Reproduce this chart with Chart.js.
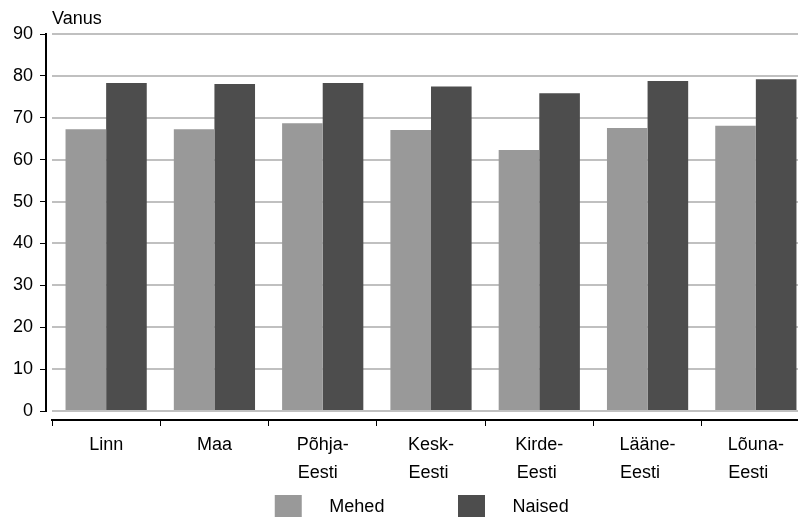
<!DOCTYPE html>
<html>
<head>
<meta charset="utf-8">
<script src="https://cdn.jsdelivr.net/npm/chart.js@4/dist/chart.umd.min.js"></script>
<style>
  html, body { margin: 0; padding: 0; background: #fff; overflow: hidden; width: 798px; height: 517px; }
  canvas { display: block; }
</style>
</head>
<body>
<canvas id="chart" width="812" height="529"></canvas>
<script>
const categories = ['Linn', 'Maa', 'Põhja-Eesti', 'Kesk-Eesti', 'Kirde-Eesti', 'Lääne-Eesti', 'Lõuna-Eesti'];
const seriesNames = ['Mehed', 'Naised'];
const mehed = [67.3, 67.3, 68.7, 67.1, 62.3, 67.6, 68.1];
const naised = [78.3, 78.1, 78.3, 77.5, 75.9, 78.8, 79.2];
const yTitle = 'Vanus';
const yMin = 0, yMax = 90, yStep = 10;

const FONT = "Arial, 'Liberation Sans', Helvetica, sans-serif";
const measure = document.createElement('canvas').getContext('2d');
measure.font = '18px ' + FONT;

// split "Põhja-Eesti" after the hyphen, pad 2nd line so both lines start at same x
function splitLabel(label) {
  const i = label.indexOf('-');
  if (i < 0) return label;
  const first = label.slice(0, i + 1);
  let second = label.slice(i + 1);
  const w = measure.measureText(first).width;
  while (measure.measureText(second + ' ').width <= w + 2) second += ' ';
  return [first, second];
}

// legend spacing: gap after the box, and room after each item
const legendLead = '   \u2009';
const legendTrail = ['            \u2009', '   \u2009'];

Chart.defaults.font.family = FONT;
Chart.defaults.font.size = 18;
Chart.defaults.color = '#000';

const ctx = document.getElementById('chart').getContext('2d');
new Chart(ctx, {
  type: 'bar',
  data: {
    labels: categories,
    datasets: [
      { label: seriesNames[0], data: mehed, backgroundColor: '#999999' },
      { label: seriesNames[1], data: naised, backgroundColor: '#4d4d4d' }
    ]
  },
  options: {
    responsive: false,
    animation: false,
    layout: { padding: { left: 0, right: 2, top: 0, bottom: 0 } },
    datasets: { bar: { categoryPercentage: 0.75, barPercentage: 1.0, borderWidth: 0 } },
    plugins: {
      tooltip: { enabled: false },
      title: {
        display: true,
        text: yTitle,
        align: 'start',
        fullSize: false,
        font: { size: 18, weight: 'normal' },
        color: '#000',
        padding: { top: 8, bottom: 4.5 }
      },
      legend: {
        position: 'bottom',
        fullSize: false,
        labels: {
          boxWidth: 27,
          boxHeight: 24,
          padding: 10,
          font: { size: 18 },
          color: '#000',
          generateLabels: function (chart) {
            return Chart.defaults.plugins.legend.labels.generateLabels(chart).map(function (l, i) {
              l.text = legendLead + l.text + legendTrail[i];
              return l;
            });
          }
        }
      }
    },
    scales: {
      x: {
        weight: 0,
        grid: { display: false },
        border: { display: false },
        ticks: { display: false },
        afterFit: function (s) { s.height = 9; }
      },
      x2: {
        type: 'category',
        position: 'bottom',
        weight: 1,
        offset: true,
        grid: { offset: true, drawOnChartArea: false, color: '#000', lineWidth: 1, tickLength: 6 },
        border: { display: true, color: '#000', width: 2 },
        ticks: {
          autoSkip: false,
          maxRotation: 0,
          padding: 5,
          font: { size: 18, lineHeight: 1.55 },
          callback: function (value) { return splitLabel(this.getLabelForValue(value)); }
        },
        afterFit: function (s) { s.height = 65; }
      },
      y: {
        weight: 0,
        min: yMin,
        max: yMax,
        ticks: { display: false, stepSize: yStep },
        grid: { color: '#c0c0c0', lineWidth: 2, drawTicks: false },
        border: { display: false },
        afterFit: function (s) { s.width = 6; }
      },
      y2: {
        type: 'linear',
        position: 'left',
        weight: 1,
        min: yMin,
        max: yMax,
        ticks: { stepSize: yStep, padding: 7, font: { size: 18 } },
        grid: { drawOnChartArea: false, color: '#000', lineWidth: 1, tickLength: 6 },
        border: { display: true, color: '#000', width: 2 },
        afterFit: function (s) { s.width = 46; }
      }
    }
  }
});
</script>
</body>
</html>
